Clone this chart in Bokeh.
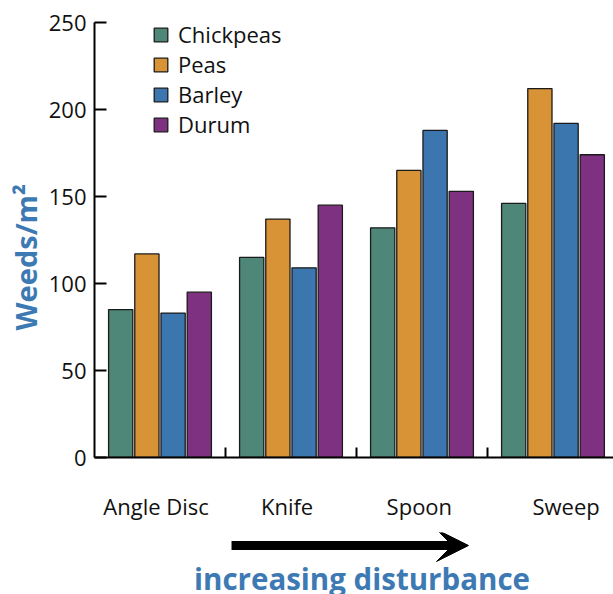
import math
from bokeh.plotting import figure
from bokeh.models import (Range1d, FixedTicker, ColumnDataSource, Legend, LegendItem,
                          Arrow, VeeHead, Label)
from bokeh.layouts import column, row
from bokeh.embed import file_html
from bokeh.resources import INLINE

categories = ["Angle Disc", "Knife", "Spoon", "Sweep"]
series = ["Chickpeas", "Peas", "Barley", "Durum"]
chickpeas = [85, 115, 132, 146]
peas = [117, 137, 165, 212]
barley = [83, 109, 188, 192]
durum = [95, 145, 153, 174]
y_ticks = [0, 50, 100, 150, 200, 250]
colors = ["#4e8777", "#d99337", "#3b76ae", "#7e3180"]

FONT = "Open Sans"
BLUE = "#3d7ab4"

p = figure(width=569, height=532, output_backend="svg", toolbar_location=None,
           x_range=Range1d(0, 3.962), y_range=Range1d(0, 250),
           min_border_left=50, min_border_right=0, min_border_top=22, min_border_bottom=75)
p.outline_line_color = None
p.xgrid.visible = False
p.ygrid.visible = False

offsets = [-0.3, -0.1, 0.1, 0.3]
renderers = []
for vals, off, col in zip([chickpeas, peas, barley, durum], offsets, colors):
    src = ColumnDataSource(dict(x=[i + 0.5 + off for i in range(len(categories))], top=vals))
    r = p.vbar(x="x", top="top", width=0.185, bottom=0, source=src,
               fill_color=col, line_color="#1a1a1a", line_width=1.3)
    renderers.append(r)

# x axis: labels at categories, ticks between categories
label_pos = [0.47, 1.47, 2.48, 3.6]
p.xaxis.ticker = FixedTicker(ticks=label_pos, minor_ticks=[1, 2, 3])
p.xaxis.major_label_overrides = {t: c for t, c in zip(label_pos, categories)}
p.xaxis.major_tick_in = 0
p.xaxis.major_tick_out = 0
p.xaxis.minor_tick_in = 10
p.xaxis.minor_tick_out = 0
p.xaxis.minor_tick_line_width = 2
p.xaxis.axis_line_width = 2
p.xaxis.major_label_standoff = 33
p.xaxis.major_label_text_font = FONT
p.xaxis.major_label_text_font_size = "22px"
p.xaxis.major_label_text_color = "#111111"

p.yaxis.ticker = FixedTicker(ticks=y_ticks)
p.yaxis.major_tick_in = 12
p.yaxis.major_tick_out = 0
p.yaxis.minor_tick_line_color = None
p.yaxis.major_tick_line_width = 2
p.yaxis.axis_line_width = 2
p.yaxis.major_label_standoff = 8
p.yaxis.major_label_text_font = FONT
p.yaxis.major_label_text_font_size = "22px"
p.yaxis.major_label_text_color = "#111111"

legend = Legend(items=[LegendItem(label=s, renderers=[r]) for s, r in zip(series, renderers)],
                location=(58, 318), padding=0, margin=0, spacing=0,
                glyph_width=17, glyph_height=17, label_standoff=9,
                label_text_font=FONT, label_text_font_size="22px", label_text_color="#111111",
                border_line_color=None, background_fill_alpha=0)
p.add_layout(legend)

# narrow panel holding the y-axis title
pt = figure(width=44, height=532, output_backend="svg", toolbar_location=None,
            x_range=Range1d(0, 44), y_range=Range1d(0, 532),
            min_border_left=0, min_border_right=0, min_border_top=0, min_border_bottom=0)
pt.axis.visible = False
pt.grid.visible = False
pt.outline_line_color = None
pt.add_layout(Label(x=25, y=245, text="Weeds/m²", angle=math.pi / 2,
                    text_align="center", text_baseline="alphabetic",
                    text_font=FONT, text_font_style="bold", text_font_size="29px",
                    text_color=BLUE))

p2 = figure(width=613, height=62, output_backend="svg", toolbar_location=None,
            x_range=p.x_range, y_range=Range1d(0, 62),
            min_border_left=94, min_border_right=0, min_border_top=0, min_border_bottom=0)
p2.axis.visible = False
p2.grid.visible = False
p2.outline_line_color = None
p2.add_layout(Arrow(x_start=1.046, y_start=49, x_end=2.855, y_end=49, line_width=9,
                    line_color="black",
                    end=VeeHead(size=32, fill_color="black", line_color="black")))
p2.add_layout(Label(x=2.042, y=16, text="increasing disturbance", text_align="center",
                    text_baseline="alphabetic", text_font=FONT, text_font_style="bold",
                    text_font_size="29.5px", text_color=BLUE))

layout = column(row(pt, p, spacing=0), p2, spacing=0)
open("out.html", "w").write(file_html(layout, INLINE))
